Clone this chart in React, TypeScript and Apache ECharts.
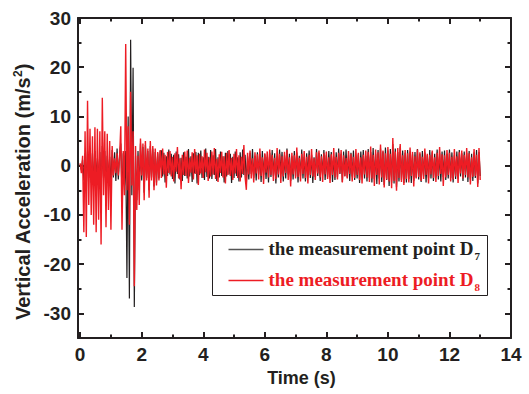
import React, { useEffect, useRef } from 'react';
import * as echarts from 'echarts';

// sampling interval of the records (s)
const SAMPLE_STEP = 0.04;

// measurement point D7 (black), m/s^2, one value per sample
const d7: number[] = [
  0.3, -0.8, 1.2, -3, 2.5, -4, 3, -2.5, 2, -3.5,
  2.5, -4, 3, -2, 1.5, -3, 2.8, -5, 4, -2.5,
  3, -4.5, 2, -2.5, 1.8, -3.5, 3.2, -2.4, 2.7, -3.1,
  3.5, -2.8, 2.2, 4.5, -6, 2.5, -4, 3, -22.8, 10,
  -27, 25.6, -6, 19.9, -28.7, 2, -7, 3, -5, 4.5,
  -3, 3.8, -5.5, 4.2, -2.5, 3, -5, 4, -2.4, 3.5,
  -4.2, 2.8, -3.4, 2.5, -2.6, 2.9,
  3.1, -2.2, 2.6, -3.4, 1.9, -2.1, 3.3, -1.8, 2.4, -2.7,
  2.2, -3.6, 2.9, -1.7, 2.3, -2.8, 1.6, -3.1, 2.7, -2.1,
  1.8, -2.6, 3.4, -2.2, 1.9, -3.3, 2.5, -1.6, 2.8, -3.6,
  2.6, -1.9, 3.1, -2.5, 1.7, -2.9, 3.5, -2.3, 1.8, -2.6,
  3.2, -2.7, 2.1, -1.9, 3.4, -3.1, 1.7, -2.4, 2.9, -2.1,
  1.9, -3.4, 2.6, -2.2, 3, -1.8, 2.4, -3.5, 1.8, -2.5,
  2.9, -2.1, 1.7, -3.2, 2.7, -2.4, 3.3, -1.9, 2.2, -3.7,
  1.9, -2.8, 2.6, -1.7, 3.4, -2.5, 2, -3, 2.7, -1.8,
  2.4, -3.3, 3, -1.9, 2.3, -2.7, 1.8, -3.4, 2.6, -2.3,
  3.2, -2.1, 2.5, -3.6, 1.9, -2.4, 3.3, -1.7, 2.8, -3.2,
  2.1, -2.6, 3.5, -1.8, 2.4, -3.1, 1.9, -2.8, 3, -2.2,
  2.7, -3.4, 2, -2.1, 3.3, -2.6, 1.8, -3.2, 2.5, -1.9,
  3.1, -2.5, 2.2, -3.5, 1.7, -2.3, 3.4, -2.1, 2.6, -3.1,
  2.3, -1.8, 3.2, -2.9, 2.1, -2.4, 3, -1.9, 2.8, -3.3,
  1.8, -2.9, 2.7, -2.3, 3.5, -1.7, 2.4, -3.3, 2.9, -2.1,
  3.3, -2.4, 2.1, -3.1, 2.6, -2.2, 3.1, -2.9, 1.9, -2.6,
  2.3, -3.5, 2.9, -2.1, 3.2, -2.6, 2, -3.2, 3.4, -2.5,
  2.8, -3.4, 3.6, -2.7, 2.4, -3.7, 3.2, -2.6, 3.5, -3.3,
  2.9, -3.9, 3.7, -2.9, 3.1, -4.1, 3.4, -3.5, 4.4, -3.6,
  3.5, -4.4, 2.8, -3.2, 3.9, -2.9, 3.1, -3.5, 2.6, -3.4,
  3.2, -2.7, 2.9, -3.5, 2.3, -3.1, 2.8, -2.4, 3.4, -2.8,
  2.4, -3.3, 3, -2.2, 2.7, -3.4, 2.1, -2.5, 3.2, -2.6,
  2.7, -3.1, 2.4, -2.4, 3.3, -2.8, 2.5, -3.2, 2.9, -2.3,
  3.1, -2.9, 2.4, -2.6, 3.3, -2.5, 2.7, -3.4, 2.1, -2.7,
  2.9, -2.6, 3.2, -2.2, 2.5, -3.1, 2.9, -2.4, 2.6, -3.3,
  3, -2.8, 2.4, -3.1, 2.7, -2.5, 3.2, -3.6, 2.8, -2.1,
];

// measurement point D8 (red), m/s^2, one value per sample
const d8: number[] = [
  0.5, -1.5, 2, -13.5, 7, -14.5, 13.2, -8, 7.5, -10,
  6, -12, 7.8, -13.5, 7.5, -11, 7, -16, 13.8, -6,
  7, -12.5, 6.5, -9, 5, -13, 4, -2, 1.5, -1.5,
  2.5, -2, 1.5, 8, -13, 3, -6, 24.7, -5, 8,
  -12, 15, -4, 7, -24.5, 4, -9, 2, -8, 5.5,
  -2, 4.5, -7, 5, -3, 3.5, -6.5, 5, -3, 4,
  -5, 3.5, -4, 2.8, -3, 3.2,
  -2.5, 3.5, -1.8, 2.2, -4.5, 2.8, -1.5, 3, -2.2, 1.8,
  -3.2, 2.5, -1.2, 3.8, -2.6, 1.5, -4.8, 2.2, -1.9, 2.9,
  -2.1, 3.1, -3.5, 1.6, -1.4, 2.7, -2.8, 3.4, -1.7, 2.1,
  -3.9, 2.4, -1.6, 1.9, -2.5, 3.3, -1.3, 2.6, -3.1, 1.7,
  -2.2, 2.9, -1.8, 3.6, -2.7, 1.4, -3.3, 2.3, -1.5, 2.8,
  -2.4, 1.9, -3.6, 2.6, -1.9, 3.2, -2.1, 1.6, -2.9, 2.4,
  -1.6, 3.4, -2.5, 2.1, -3.2, 1.8, -1.7, 4.2, -2.3, -4.9,
  2.6, -1.8, 3.1, -2.6, 1.5, -3.4, 2.7, -1.6, 2.3, -2.8,
  3.5, -2.1, 1.7, -3.7, 2.5, -1.4, 2.9, -2.4, 3.3, -1.9,
  2.2, -3.1, 1.6, -2.7, 3.6, -1.8, 2.4, -3.5, 1.9, -2.2,
  2.8, -1.5, 3.2, -2.9, 1.7, -4.2, 2.6, -1.8, 2.1, -2.6,
  3.7, -2.3, 1.6, -3.2, 2.4, -1.7, 3, -2.5, 1.8, -3.6,
  2.2, -1.9, 3.4, -2.2, 1.5, -2.9, 2.7, -1.6, 3.1, -2.4,
  1.9, -3.3, 2.5, -1.8, 2.9, -2.7, 1.7, -3.5, 2.3, -1.9,
  3.6, -2.4, 1.8, -2.8, 2.6, -1.6, 3.2, -3.4, 2.1, -2.2,
  1.6, -2.6, 3, -1.7, 2.4, -3.2, 1.8, -2.5, 3.4, -1.9,
  2.6, -2.9, 1.7, -3.6, 2.2, -1.8, 3.1, -2.4, 2.8, -3.3,
  3.9, -2.6, 2.2, -4.1, 3.3, -1.9, 2.7, -3.8, 4.3, -2.4,
  3.1, -4.4, 2.5, -2.8, 3.8, -3.2, 2.4, -4.6, 5.6, -3.1,
  2.9, -5.1, 3.6, -2.5, 4.4, -3.3, 2.1, -3.9, 3.2, -2.7,
  2.5, -3.4, 3.7, -2.1, 2.8, -4.2, 1.9, -2.6, 3.3, -2.3,
  2.7, -3.1, 1.8, -2.7, 3.5, -1.9, 2.4, -3.6, 2.2, -1.8,
  3.1, -2.5, 1.7, -3.3, 2.6, -2.1, 3.8, -1.7, 2.3, -4.1,
  2.1, -2.4, 3.2, -1.9, 2.6, -3.2, 1.8, -2.8, 3.4, -2.2,
  1.9, -3.5, 2.7, -1.6, 3.1, -2.6, 2.2, -1.9, 3.6, -2.4,
  2.5, -3.8, 1.7, -2.3, 3.4, -2.1, 2.2, -4.3, 3.6, -2.9,
];

const xMajorTicks = [0, 2, 4, 6, 8, 10, 12, 14];
const xMinorTicks = [1, 3, 5, 7, 9, 11, 13];
const yMajorTicks = [-30, -20, -10, 0, 10, 20, 30];
const yMinorTicks = [-35, -25, -15, -5, 5, 15, 25];

const X_MIN = -0.07;
const X_MAX = 14;
const Y_MIN = -35;
const Y_MAX = 30;

const AXIS_COLOR = '#231f20';
const RED = '#ed1c24';
const SANS = 'Liberation Sans, Arial, sans-serif';
const SERIF = 'Liberation Serif, Times New Roman, serif';

const toPairs = (vals: number[]) =>
  vals.map((v, i) => [Number((i * SAMPLE_STEP).toFixed(2)), v]);

function tickAxis(position: string, ticks: number[], len: number, showLine: boolean, min: number, max: number) {
  return {
    type: 'value',
    position,
    min,
    max,
    axisLine: { show: showLine, onZero: false, lineStyle: { color: AXIS_COLOR, width: 2 } },
    axisTick: { show: true, inside: true, length: len, customValues: ticks, lineStyle: { color: AXIS_COLOR, width: 2 } },
    axisLabel: { show: false },
    splitLine: { show: false },
  };
}

function legendLabel(sub: string, color: string) {
  return {
    text: `{a|the measurement point D}{b|${sub}}`,
    verticalAlign: 'middle',
    fill: color,
    rich: {
      a: { fontFamily: SERIF, fontWeight: 'bold', fontSize: 19, lineHeight: 26, fill: color },
      b: { fontFamily: SERIF, fontWeight: 'bold', fontSize: 11, lineHeight: 6, verticalAlign: 'bottom', fill: color, padding: [0, 0, 0, 1] },
    },
  };
}

export default function App() {
  const ref = useRef<HTMLDivElement>(null);

  useEffect(() => {
    if (!ref.current) return;
    const chart = echarts.init(ref.current, null, { renderer: 'svg' });
    const labelStyle = {
      fontFamily: SANS,
      fontWeight: 'bold' as const,
      fontSize: 19,
      color: AXIS_COLOR,
    };
    chart.setOption({
      animation: false,
      backgroundColor: '#ffffff',
      grid: { left: 78, right: 18, top: 18, bottom: 56, containLabel: false },
      xAxis: [
        {
          type: 'value',
          position: 'bottom',
          min: X_MIN,
          max: X_MAX,
          name: 'Time (s)',
          nameLocation: 'middle',
          nameGap: 29,
          nameTextStyle: { ...labelStyle, fontSize: 18, padding: [0, 0, 0, 14] },
          axisLine: { show: true, onZero: false, lineStyle: { color: AXIS_COLOR, width: 2 } },
          axisTick: { show: true, inside: true, length: 6, customValues: xMajorTicks, lineStyle: { color: AXIS_COLOR, width: 2 } },
          axisLabel: { ...labelStyle, margin: 7, customValues: xMajorTicks },
          splitLine: { show: false },
        },
        tickAxis('bottom', xMinorTicks, 3.5, false, X_MIN, X_MAX),
        tickAxis('top', xMajorTicks, 6, true, X_MIN, X_MAX),
        tickAxis('top', xMinorTicks, 3.5, false, X_MIN, X_MAX),
      ],
      yAxis: [
        {
          type: 'value',
          position: 'left',
          min: Y_MIN,
          max: Y_MAX,
          name: '{a|Vertical Acceleration (m/s}{s|2}{a|)}',
          nameLocation: 'middle',
          nameGap: 38,
          nameTextStyle: {
            ...labelStyle,
            padding: [0, 28, 0, 0],
            rich: {
              a: { fontFamily: SANS, fontWeight: 'bold', fontSize: 20, color: AXIS_COLOR, lineHeight: 22 },
              s: { fontFamily: SANS, fontWeight: 'bold', fontSize: 12, color: AXIS_COLOR, verticalAlign: 'top', lineHeight: 12 },
            },
          },
          axisLine: { show: true, onZero: false, lineStyle: { color: AXIS_COLOR, width: 2 } },
          axisTick: { show: true, inside: true, length: 6, customValues: yMajorTicks, lineStyle: { color: AXIS_COLOR, width: 2 } },
          axisLabel: { ...labelStyle, margin: 7, customValues: yMajorTicks },
          splitLine: { show: false },
        },
        tickAxis('left', yMinorTicks, 3.5, false, Y_MIN, Y_MAX),
        tickAxis('right', yMajorTicks, 6, true, Y_MIN, Y_MAX),
        tickAxis('right', yMinorTicks, 3.5, false, Y_MIN, Y_MAX),
      ],
      series: [
        {
          name: 'the measurement point D7',
          type: 'line',
          xAxisIndex: 0,
          yAxisIndex: 0,
          data: toPairs(d7),
          showSymbol: false,
          symbol: 'none',
          lineStyle: { color: AXIS_COLOR, width: 1.2 },
          z: 2,
        },
        {
          name: 'the measurement point D8',
          type: 'line',
          xAxisIndex: 0,
          yAxisIndex: 0,
          data: toPairs(d8),
          showSymbol: false,
          symbol: 'none',
          lineStyle: { color: RED, width: 1.4 },
          z: 3,
        },
      ],
      graphic: [
        {
          type: 'group',
          left: 212,
          top: 235,
          z: 100,
          children: [
            {
              type: 'rect',
              shape: { x: 0, y: 0, width: 275, height: 60 },
              style: { fill: '#ffffff', stroke: AXIS_COLOR, lineWidth: 1 },
            },
            {
              type: 'line',
              shape: { x1: 16, y1: 14, x2: 51, y2: 14 },
              style: { stroke: '#555555', lineWidth: 1.3 },
            },
            {
              type: 'line',
              shape: { x1: 16, y1: 45, x2: 51, y2: 45 },
              style: { stroke: RED, lineWidth: 1.3 },
            },
            {
              type: 'text',
              x: 56,
              y: 13,
              style: legendLabel('7', AXIS_COLOR),
            },
            {
              type: 'text',
              x: 56,
              y: 44,
              style: legendLabel('8', RED),
            },
          ],
        },
      ],
    });
    return () => chart.dispose();
  }, []);

  return (
    <div
      ref={ref}
      style={{ position: 'absolute', left: 0, top: 0, width: 529, height: 394, background: '#fff' }}
    />
  );
}
